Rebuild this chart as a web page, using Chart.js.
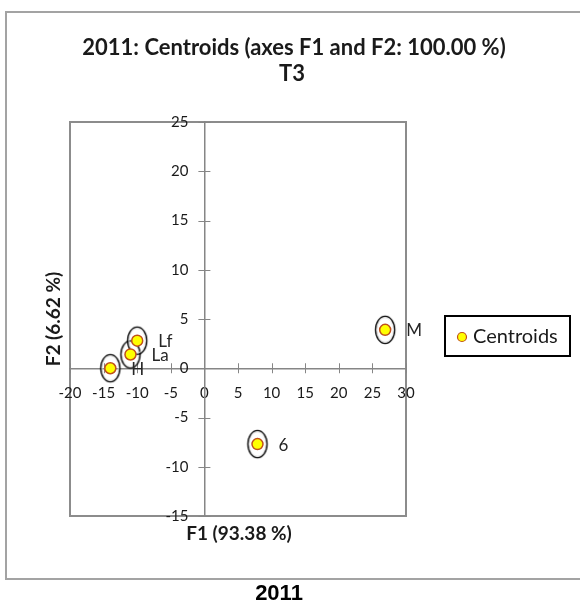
<!DOCTYPE html>
<html>
<head>
<meta charset="utf-8">
<title>2011 Centroids T3</title>
<script src="https://cdn.jsdelivr.net/npm/chart.js"></script>
<style>
    html, body { margin: 0; padding: 0; background: #ffffff; }
    #caja { width: 580px; height: 606px; }
</style>
</head>
<body>
<div id="caja"><canvas id="myChart" width="580" height="606"></canvas></div>
<script>
// datos (coordenadas de los centroides)
var etiquetas = ['H', 'La', 'Lf', 'M', '6'];
var ejeF1 = [-14.0, -11.0, -10.0, 26.9, 7.9];
var ejeF2 = [0.0, 1.4, 2.8, 3.9, -7.7];

// marcas de los ejes
var ticksX = [-20, -15, -10, -5, 0, 5, 10, 15, 20, 25, 30];
var ticksY = [-15, -10, -5, 0, 5, 10, 15, 20, 25];

// textos
var titulo = ['2011: Centroids (axes F1 and F2: 100.00 %)', 'T3'];
var tituloX = 'F1 (93.38 %)';
var tituloY = 'F2 (6.62 %)';
var pie = '2011';
var serie = 'Centroids';

var fuente = 'Lato, "Open Sans", sans-serif';

// armar los puntos para la grafica
var puntos = [];
for (var i = 0; i < etiquetas.length; i++) {
    puntos.push({ x: ejeF1[i], y: ejeF2[i] });
}

// elipse que rodea cada centroide (se usa como pointStyle)
var elipse = document.createElement('canvas');
elipse.width = 24;
elipse.height = 32;
var ce = elipse.getContext('2d');
ce.strokeStyle = '#e6e6e6';
ce.lineWidth = 1;
ce.beginPath();
ce.ellipse(12, 16, 8.2, 12.2, 0, 0, Math.PI * 2);
ce.stroke();
ce.strokeStyle = '#000000';
ce.lineWidth = 1.3;
ce.beginPath();
ce.ellipse(12, 16, 9.6, 13.6, 0, 0, Math.PI * 2);
ce.stroke();

// marcos, titulos y pie
var marcos = {
    id: 'marcos',
    beforeDraw: function (chart) {
        var ctx = chart.ctx;
        var a = chart.chartArea;
        ctx.save();
        ctx.fillStyle = '#ffffff';
        ctx.fillRect(0, 0, chart.width, chart.height);
        ctx.strokeStyle = '#a3a3a3';
        ctx.lineWidth = 2;
        ctx.strokeRect(6, 12, 600, 567);
        ctx.strokeStyle = '#8c8c8c';
        ctx.lineWidth = 2;
        ctx.strokeRect(a.left, a.top, a.right - a.left, a.bottom - a.top);

        ctx.fillStyle = '#1a1a1a';
        ctx.textAlign = 'center';
        ctx.textBaseline = 'middle';
        ctx.font = 'bold 22px ' + fuente;
        ctx.fillText(titulo[0], 294, 48);
        ctx.fillText(titulo[1], 292, 74);

        ctx.font = 'bold 19px ' + fuente;
        ctx.fillText(tituloX, (a.left + a.right) / 2 + 1, 534);
        ctx.translate(54, (a.top + a.bottom) / 2);
        ctx.rotate(-Math.PI / 2);
        ctx.fillText(tituloY, 0, 0);
        ctx.restore();

        ctx.save();
        ctx.fillStyle = '#000000';
        ctx.textAlign = 'center';
        ctx.textBaseline = 'middle';
        ctx.font = 'bold 22px "Liberation Sans", Arial, sans-serif';
        ctx.fillText(pie, 279, 594);
        ctx.restore();
    },
    // marcas cruzadas sobre los ejes y numeros del eje vertical
    beforeDatasetsDraw: function (chart) {
        var ctx = chart.ctx;
        var sx = chart.scales.x;
        var sy = chart.scales.y;
        var y0 = sy.getPixelForValue(0);
        var x0 = sx.getPixelForValue(0);
        ctx.save();
        ctx.strokeStyle = '#868686';
        ctx.lineWidth = 1;
        ctx.beginPath();
        for (var i = 0; i < sx.ticks.length; i++) {
            var px = Math.round(sx.getPixelForValue(sx.ticks[i].value)) + 0.5;
            ctx.moveTo(px, y0 - 5);
            ctx.lineTo(px, y0 + 5);
        }
        for (var j = 0; j < sy.ticks.length; j++) {
            var py = Math.round(sy.getPixelForValue(sy.ticks[j].value)) + 0.5;
            ctx.moveTo(x0 - 6, py);
            ctx.lineTo(x0 + 6, py);
        }
        ctx.stroke();

        ctx.fillStyle = '#1a1a1a';
        ctx.font = '15px ' + fuente;
        ctx.textAlign = 'right';
        ctx.textBaseline = 'middle';
        for (var k = 0; k < sy.ticks.length; k++) {
            var v = sy.ticks[k].value;
            ctx.fillText(String(v), x0 - 16, sy.getPixelForValue(v));
        }
        ctx.restore();
    },
    afterDatasetsDraw: function (chart) {
        // nombre de cada centroide
        var ctx = chart.ctx;
        var meta = chart.getDatasetMeta(0);
        ctx.save();
        ctx.fillStyle = '#262626';
        ctx.font = '17px ' + fuente;
        ctx.textAlign = 'left';
        ctx.textBaseline = 'middle';
        for (var i = 0; i < meta.data.length; i++) {
            var el = meta.data[i];
            ctx.fillText(etiquetas[i], el.x + 21, el.y + 1);
        }
        ctx.restore();
    },
    afterDraw: function (chart) {
        // leyenda con recuadro
        var ctx = chart.ctx;
        var ds = chart.data.datasets[0];
        ctx.save();
        ctx.strokeStyle = '#000000';
        ctx.lineWidth = 2;
        ctx.strokeRect(445, 316, 125, 40);
        ctx.beginPath();
        ctx.arc(462, 337, 4.5, 0, Math.PI * 2);
        ctx.fillStyle = ds.backgroundColor;
        ctx.fill();
        ctx.strokeStyle = ds.borderColor;
        ctx.lineWidth = 1.2;
        ctx.stroke();
        ctx.fillStyle = '#1a1a1a';
        ctx.font = '20px ' + fuente;
        ctx.textAlign = 'left';
        ctx.textBaseline = 'middle';
        ctx.fillText(ds.label, 473, 337);
        ctx.restore();
    }
};

var grafica = new Chart(document.getElementById('myChart'), {
    type: 'scatter',
    data: {
        datasets: [
            {
                label: serie,
                data: puntos,
                backgroundColor: '#ffff00',
                borderColor: '#c0501a',
                borderWidth: 1.5,
                pointRadius: 5.5,
                pointHoverRadius: 5.5
            },
            {
                label: 'elipses',
                data: puntos,
                pointStyle: elipse,
                pointRadius: 14,
                pointHoverRadius: 14
            }
        ]
    },
    options: {
        responsive: false,
        animation: false,
        devicePixelRatio: 1,
        layout: { padding: { left: 70, top: 122, right: 174, bottom: 90 } },
        plugins: {
            legend: { display: false },
            title: { display: false },
            tooltip: { enabled: false }
        },
        scales: {
            x: {
                type: 'linear',
                min: -20,
                max: 30,
                position: { y: 0 },
                afterBuildTicks: function (s) {
                    s.ticks = ticksX.map(function (v) { return { value: v }; });
                },
                grid: { display: true, drawOnChartArea: false, drawTicks: false },
                border: { display: true, color: '#868686', width: 1.5 },
                ticks: {
                    color: '#1a1a1a',
                    font: { family: fuente, size: 15 },
                    padding: 16,
                    maxRotation: 0,
                    autoSkip: false
                }
            },
            y: {
                type: 'linear',
                min: -15,
                max: 25,
                position: { x: 0 },
                afterBuildTicks: function (s) {
                    s.ticks = ticksY.map(function (v) { return { value: v }; });
                },
                grid: { display: true, drawOnChartArea: false, drawTicks: false },
                border: { display: true, color: '#868686', width: 1.5 },
                ticks: { display: false, autoSkip: false }
            }
        }
    },
    plugins: [marcos]
});
</script>
</body>
</html>
